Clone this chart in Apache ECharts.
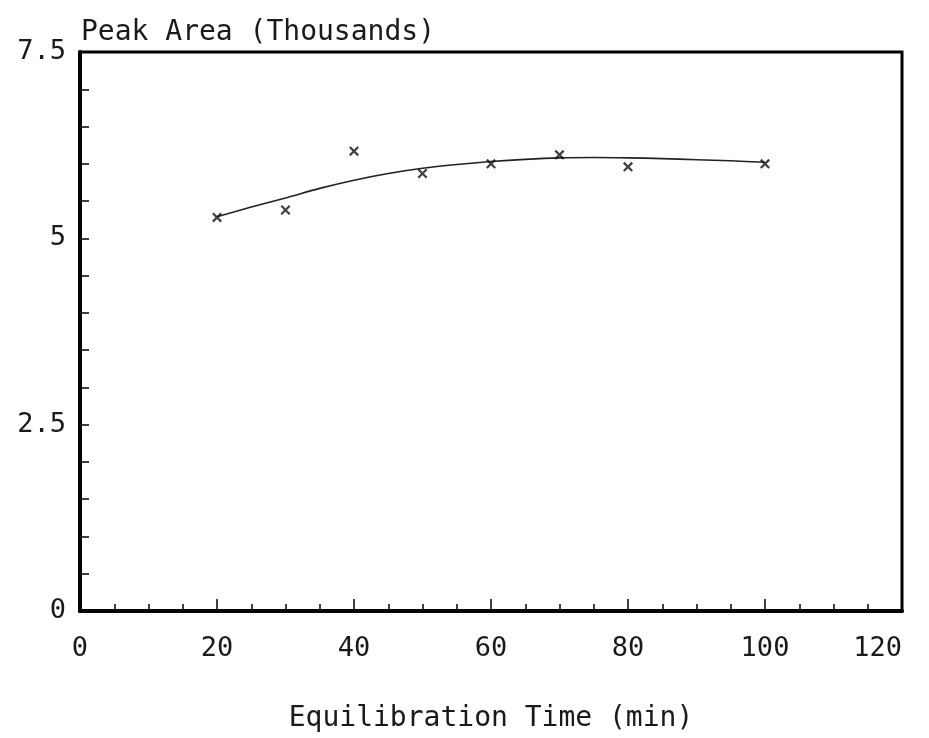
<!DOCTYPE html>
<html><head><meta charset="utf-8">
<script src="https://cdn.jsdelivr.net/npm/echarts@6/dist/echarts.min.js"></script>
<style>html,body{margin:0;padding:0;background:#fff}#c{width:929px;height:738px}</style>
</head><body><div id="c"></div>
<script>
const xTimes = [20, 30, 40, 50, 60, 70, 80, 100];
const peakArea = [5.28, 5.38, 6.17, 5.87, 6.00, 6.12, 5.96, 6.00];
const curveX = [20, 25, 30, 35, 40, 45, 50, 55, 60, 65, 70, 75, 80, 85, 90, 95, 100];
const curveY = [5.29, 5.42, 5.54, 5.67, 5.78, 5.87, 5.94, 5.99, 6.03, 6.06, 6.08, 6.085, 6.08, 6.07, 6.055, 6.04, 6.02];
const yTickLabels = ['0', '2.5', '5', '7.5'];

const font = 'DejaVu Sans Mono';
const ink = '#1a1a1a';
const chart = echarts.init(document.getElementById('c'));
chart.setOption({
  animation: false,
  backgroundColor: '#fff',
  title: {
    text: 'Peak Area (Thousands)', left: 76, top: 14,
    textStyle: {fontFamily: font, fontSize: 28, fontWeight: 'normal', color: ink}
  },
  grid: {left: 80, right: 27, top: 52, bottom: 118, show: true, borderColor: '#000', borderWidth: 3, backgroundColor: 'transparent'},
  xAxis: {
    type: 'value', min: 0, max: 120, interval: 20,
    name: 'Equilibration Time (min)', nameLocation: 'middle', nameGap: 94,
    nameTextStyle: {fontFamily: font, fontSize: 28, color: ink},
    axisLine: {show: true, lineStyle: {color: '#000', width: 4}},
    axisTick: {show: true, inside: true, length: 12, lineStyle: {color: '#000', width: 1.5}},
    minorTick: {show: true, splitNumber: 4, length: 7, lineStyle: {color: '#000', width: 1.5}},
    splitLine: {show: false},
    axisLabel: {fontFamily: font, fontSize: 27, color: ink, margin: 24, alignMaxLabel: 'right'}
  },
  yAxis: {
    type: 'value', min: 0, max: 7.5, interval: 2.5,
    axisLine: {show: true, lineStyle: {color: '#000', width: 4}},
    axisTick: {show: true, inside: true, length: 9, lineStyle: {color: '#000', width: 1.5}},
    minorTick: {show: true, splitNumber: 5, length: 9, lineStyle: {color: '#000', width: 1.5}},
    splitLine: {show: false},
    axisLabel: {fontFamily: font, fontSize: 27, color: ink, margin: 14,
      formatter: v => yTickLabels[Math.round(v / 2.5)]}
  },
  series: [
    {
      type: 'line', data: curveX.map((x, i) => [x, curveY[i]]), smooth: 0.3,
      showSymbol: false, lineStyle: {color: '#222', width: 1.6}, z: 2
    },
    {
      type: 'scatter', data: xTimes.map((x, i) => [x, peakArea[i]]),
      symbol: 'path://M0,1.6L1.6,0L10,8.4L8.4,10Z M8.4,0L10,1.6L1.6,10L0,8.4Z',
      symbolSize: 10, itemStyle: {color: '#111'}, z: 3
    }
  ]
});
</script></body></html>
